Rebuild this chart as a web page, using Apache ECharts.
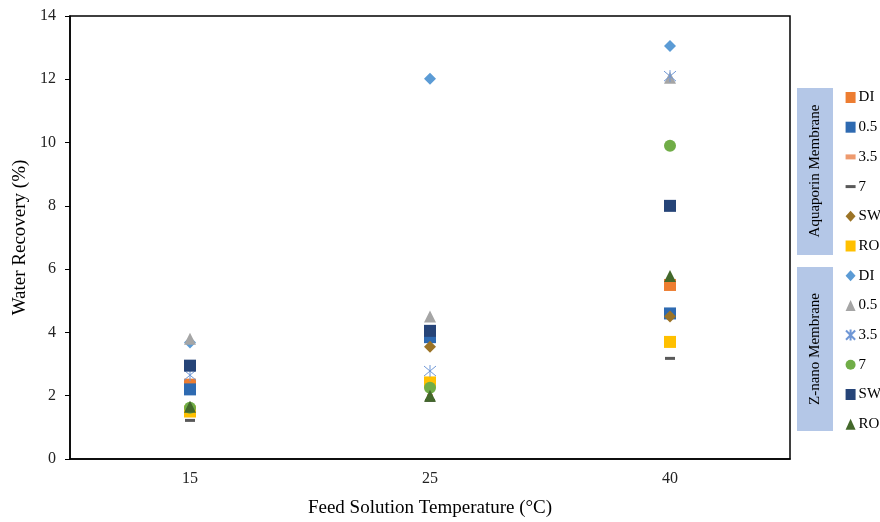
<!DOCTYPE html>
<html lang="en">
<head>
    <meta charset="UTF-8">
    <title>Water Recovery</title>
    <script src="https://cdn.jsdelivr.net/npm/echarts@6/dist/echarts.min.js"></script>
    <style>
        html, body { margin: 0; padding: 0; background: #fff; }
        #chart { width: 880px; height: 522px; }
    </style>
</head>
<body>
<div id="chart"></div>
<script>
    // temperatures (categories)
    var temps = ['15', '25', '40'];

    // Aquaporin membrane
    var aqDI = [2.35, 3.95, 5.5];
    var aq05 = [2.2, 3.85, 4.6];
    var aq35 = [1.55, 2.0, 4.55];
    var aq7 = [1.22, 1.85, 3.18];
    var aqSW = [1.6, 3.55, 4.5];
    var aqRO = [1.5, 2.42, 3.7];

    // Z-nano membrane
    var zDI = [3.68, 12.02, 13.05];
    var z05 = [3.8, 4.5, 12.05];
    var z35 = [2.65, 2.78, 12.1];
    var z7 = [1.62, 2.25, 9.9];
    var zSW = [2.95, 4.05, 8.0];
    var zRO = [1.65, 2.0, 5.78];

    var yTicks = [0, 2, 4, 6, 8, 10, 12, 14];

    var serif = 'Liberation Serif';
    var dash = 'path://M0,0h10v3h-10z';
    var smallDash = 'path://M0,0h6v3h-6z';
    var star = 'path://M0,0L10,10M10,0L0,10M5,-1L5,11';

    var defs = [
        {name: 'A|DI', data: aqDI, symbol: 'rect', size: 12, color: '#ED7D31'},
        {name: 'A|0.5', data: aq05, symbol: 'rect', size: 12, color: '#2E6AB1'},
        {name: 'A|3.5', data: aq35, symbol: 'rect', size: [6, 3], color: '#EE9A6E', icon: smallDash},
        {name: 'A|7', data: aq7, symbol: 'rect', size: [10, 3], color: '#595959', icon: dash},
        {name: 'A|SW', data: aqSW, symbol: 'diamond', size: 12, color: '#9C7426'},
        {name: 'A|RO', data: aqRO, symbol: 'rect', size: 12, color: '#FFC000'},
        {name: 'Z|DI', data: zDI, symbol: 'diamond', size: 12, color: '#5B9BD5'},
        {name: 'Z|0.5', data: z05, symbol: 'triangle', size: 12, color: '#A5A5A5'},
        {name: 'Z|3.5', data: z35, symbol: star, size: 12, color: '#6F97D6', line: true},
        {name: 'Z|7', data: z7, symbol: 'circle', size: 12, color: '#70AD47'},
        {name: 'Z|SW', data: zSW, symbol: 'rect', size: 12, color: '#264478'},
        {name: 'Z|RO', data: zRO, symbol: 'triangle', size: 12, color: '#43682B'}
    ];

    var series = defs.map(function (d) {
        return {
            name: d.name,
            type: 'scatter',
            symbol: d.symbol,
            symbolSize: d.size,
            itemStyle: d.line
                ? {color: 'rgba(0,0,0,0)', borderColor: d.color, borderWidth: 1, opacity: 1}
                : {color: d.color, opacity: 1},
            data: d.data.map(function (v, i) { return [temps[i], v]; })
        };
    });

    var legendData = defs.map(function (d) {
        var item = {name: d.name};
        if (d.icon) item.icon = d.icon;
        return item;
    });

    var myChart = echarts.init(document.getElementById('chart'));
    myChart.setOption({
        animation: false,
        grid: {
            left: 70, top: 16, right: 90, bottom: 63,
            outerBoundsMode: 'none',
            containLabel: false,
            show: true, borderColor: '#000', borderWidth: 1.5,
            backgroundColor: 'transparent'
        },
        xAxis: {
            type: 'category',
            data: temps,
            name: 'Feed Solution Temperature (°C)',
            nameLocation: 'middle',
            nameGap: 40,
            nameTextStyle: {fontFamily: serif, fontSize: 19, color: '#000'},
            axisLine: {lineStyle: {color: '#000', width: 1.5}},
            axisTick: {alignWithLabel: true, length: 5, lineStyle: {color: '#000'}},
            axisLabel: {fontFamily: serif, fontSize: 16, color: '#222', margin: 12},
            splitLine: {show: false}
        },
        yAxis: {
            type: 'value',
            min: yTicks[0],
            max: yTicks[yTicks.length - 1],
            interval: 2,
            name: 'Water Recovery (%)',
            nameLocation: 'middle',
            nameGap: 34,
            nameTextStyle: {fontFamily: serif, fontSize: 19, color: '#000'},
            axisLine: {show: true, lineStyle: {color: '#000', width: 1.5}},
            axisTick: {show: true, length: 5, lineStyle: {color: '#000'}},
            axisLabel: {fontFamily: serif, fontSize: 16, color: '#222', margin: 14},
            splitLine: {show: false}
        },
        legend: {
            orient: 'vertical',
            left: 840,
            top: 85,
            itemWidth: 10,
            itemHeight: 11,
            itemGap: 14.7,
            data: legendData,
            formatter: function (name) { return name.split('|')[1]; },
            textStyle: {fontFamily: serif, fontSize: 15, color: '#000', lineHeight: 15, padding: [0, 0, 0, -2]},
            selectedMode: false
        },
        graphic: [
            {type: 'rect', shape: {x: 797, y: 88, width: 36, height: 167}, style: {fill: '#B4C7E7'}},
            {type: 'rect', shape: {x: 797, y: 267, width: 36, height: 164}, style: {fill: '#B4C7E7'}},
            {type: 'text', x: 815, y: 171, rotation: Math.PI / 2,
                style: {text: 'Aquaporin Membrane', fontFamily: serif, fontSize: 15, fill: '#000',
                    align: 'center', verticalAlign: 'middle'}},
            {type: 'text', x: 815, y: 349, rotation: Math.PI / 2,
                style: {text: 'Z-nano Membrane', fontFamily: serif, fontSize: 15, fill: '#000',
                    align: 'center', verticalAlign: 'middle'}}
        ],
        series: series
    });
</script>
</body>
</html>
